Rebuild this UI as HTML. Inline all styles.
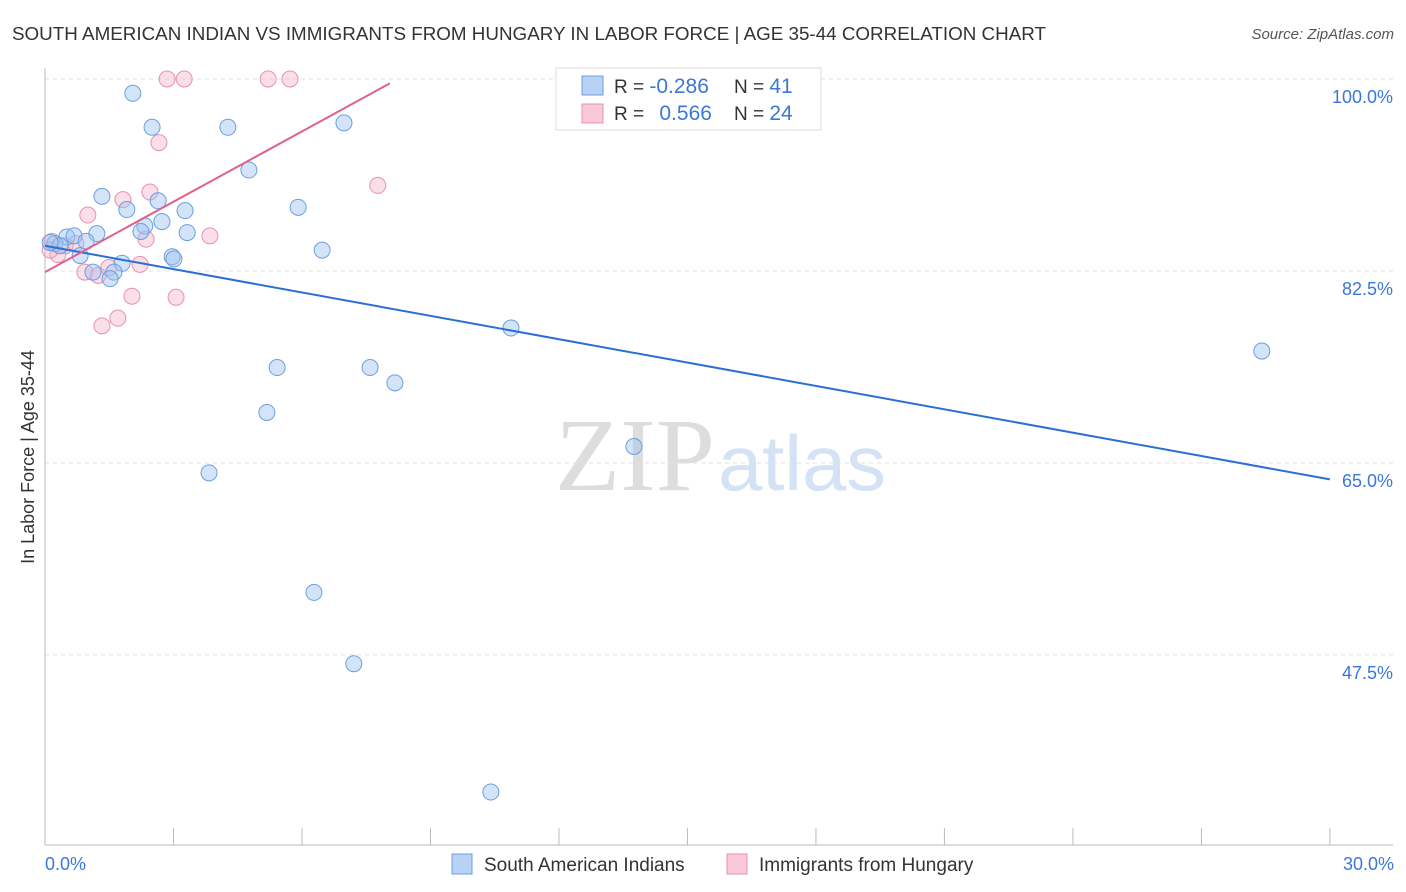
<!DOCTYPE html>
<html><head><meta charset="utf-8"><style>
body{margin:0;background:#fff;font-family:"Liberation Sans",sans-serif;}
svg{display:block}
</style></head><body>
<svg id="c" width="1406" height="892" xmlns="http://www.w3.org/2000/svg">
<text x="12" y="40" font-size="18.5" fill="#333" textLength="1034" lengthAdjust="spacingAndGlyphs">SOUTH AMERICAN INDIAN VS IMMIGRANTS FROM HUNGARY IN LABOR FORCE | AGE 35-44 CORRELATION CHART</text>
<text x="1394" y="39" font-size="15" fill="#555" font-style="italic" text-anchor="end">Source: ZipAtlas.com</text>
<text x="715" y="490" font-size="104" fill="#ddd" text-anchor="end" textLength="160" lengthAdjust="spacingAndGlyphs" font-family="Liberation Serif,serif">ZIP</text>
<text x="718" y="490" font-size="78" fill="#d3e2f5" textLength="168" lengthAdjust="spacingAndGlyphs">atlas</text>
<g id="grid"></g>
<g id="axes"></g>
<g id="marks"></g>
<text transform="translate(34,457) rotate(-90)" font-size="18" fill="#333" text-anchor="middle">In Labor Force | Age 35-44</text>
<text x="45" y="870" font-size="18" fill="#3a78d8">0.0%</text>
<text x="1394" y="870" font-size="18" fill="#3a78d8" text-anchor="end">30.0%</text>
<g>
<rect x="452" y="854" width="20" height="20" fill="#b8d2f5" stroke="#6a9fe0"/>
<text x="484" y="871" font-size="19" fill="#333">South American Indians</text>
<text x="759" y="871" font-size="19" fill="#333">Immigrants from Hungary</text>
<rect x="727" y="854" width="20" height="20" fill="#f9c9d8" stroke="#e890b0"/>
</g>
<g>
<rect x="556" y="68" width="265" height="62" fill="#fff" stroke="#ddd"/>
<rect x="582" y="76" width="21" height="19" fill="#b8d2f5" stroke="#6a9fe0"/>
<rect x="582" y="104" width="21" height="19" fill="#f9c9d8" stroke="#e890b0"/>
<text x="614" y="93" font-size="19" fill="#333">R = <tspan fill="#3a78d8" font-size="21">-0.286</tspan></text>
<text x="734" y="93" font-size="19" fill="#333">N = <tspan fill="#3a78d8" font-size="21">41</tspan></text>
<text x="614" y="120" font-size="19" fill="#333">R = <tspan fill="#3a78d8" font-size="21" dx="10">0.566</tspan></text>
<text x="734" y="120" font-size="19" fill="#333">N = <tspan fill="#3a78d8" font-size="21">24</tspan></text>
</g>
</svg>
<script>
const blueX=[2.05,2.50,4.27,6.98,4.76,1.33,2.64,1.91,3.27,5.91,2.73,2.33,2.24,3.32,1.21,0.51,0.68,0.96,0.23,0.35,0.12,6.47,0.82,2.97,3.01,1.80,1.61,1.12,1.52,10.88,28.41,5.42,7.59,8.17,5.18,13.75,3.83,6.28,7.21,10.41,17.30];
const blueY=[98.7,95.6,95.6,96.0,91.7,89.3,88.9,88.1,88.0,88.3,87.0,86.6,86.1,86.0,85.9,85.6,85.7,85.2,85.0,84.8,85.1,84.4,83.9,83.8,83.6,83.2,82.4,82.4,81.8,77.3,75.2,73.7,73.7,72.3,69.6,66.5,64.1,53.2,46.7,35.0,99.7];
const pinkX=[2.85,3.25,5.21,5.72,2.66,7.77,2.45,1.82,1.00,3.85,2.36,0.16,0.47,0.30,0.72,0.93,1.24,1.49,2.22,2.03,3.06,1.70,1.33,0.12];
const pinkY=[100,100,100,100,94.2,90.3,89.7,89.0,87.6,85.7,85.4,85.2,84.8,84.0,85.0,82.4,82.1,82.8,83.1,80.2,80.1,78.2,77.5,84.4];
const yTicks=[100,82.5,65,47.5];
const yTickLabels=["100.0%","82.5%","65.0%","47.5%"];
const blueTrend=[[0,84.8],[30,63.5]];
const pinkTrend=[[0,82.4],[8.05,99.6]];
const xs=v=>45+v*42.83, ys=v=>79+(100-v)*10.97;
const NS="http://www.w3.org/2000/svg";
function mk(tag,attrs,parent){const e=document.createElementNS(NS,tag);for(const k in attrs)e.setAttribute(k,attrs[k]);parent.appendChild(e);return e;}
const grid=document.getElementById('grid'),axes=document.getElementById('axes'),marks=document.getElementById('marks');
yTicks.forEach((t,i)=>{
 const l=mk('line',{x1:45,x2:1393,y1:ys(t),y2:ys(t),stroke:'#e2e2e2','stroke-dasharray':'4,4'},grid);
 
 
 const tx=mk('text',{x:1393,y:ys(t)+24,'font-size':18,fill:'#3a78d8','text-anchor':'end'},grid);
 tx.textContent=yTickLabels[i];
 
 
});
const xa=mk('line',{x1:45,x2:1393,y1:845,y2:845,stroke:'#bbb'},axes);


const ya=mk('line',{x1:45,x2:45,y1:68,y2:845,stroke:'#bbb'},axes);


for(let i=0;i<=10;i++){const t=mk('line',{x1:xs(i*3),x2:xs(i*3),y1:828,y2:845,stroke:'#bbb'},axes);
 
 }
function pts(X,Y,fill,stroke,name){X.forEach((x,i)=>{const c=mk('circle',{cx:xs(x),cy:ys(Y[i]),r:8,fill:fill,stroke:stroke,'stroke-width':1},marks);
 
 });}
pts(pinkX,pinkY,'rgba(245,175,198,0.4)','#e890b0','point-hungary');
pts(blueX,blueY,'rgba(160,195,240,0.45)','#6a9fe0','point-south-american-indian');
const bl=mk('line',{x1:xs(blueTrend[0][0]),y1:ys(blueTrend[0][1]),x2:xs(blueTrend[1][0]),y2:ys(blueTrend[1][1]),stroke:'#2a6fd6','stroke-width':2},marks);


const pl=mk('line',{x1:xs(pinkTrend[0][0]),y1:ys(pinkTrend[0][1]),x2:xs(pinkTrend[1][0]),y2:ys(pinkTrend[1][1]),stroke:'#e0608e','stroke-width':2},marks);


</script>
</body></html>
